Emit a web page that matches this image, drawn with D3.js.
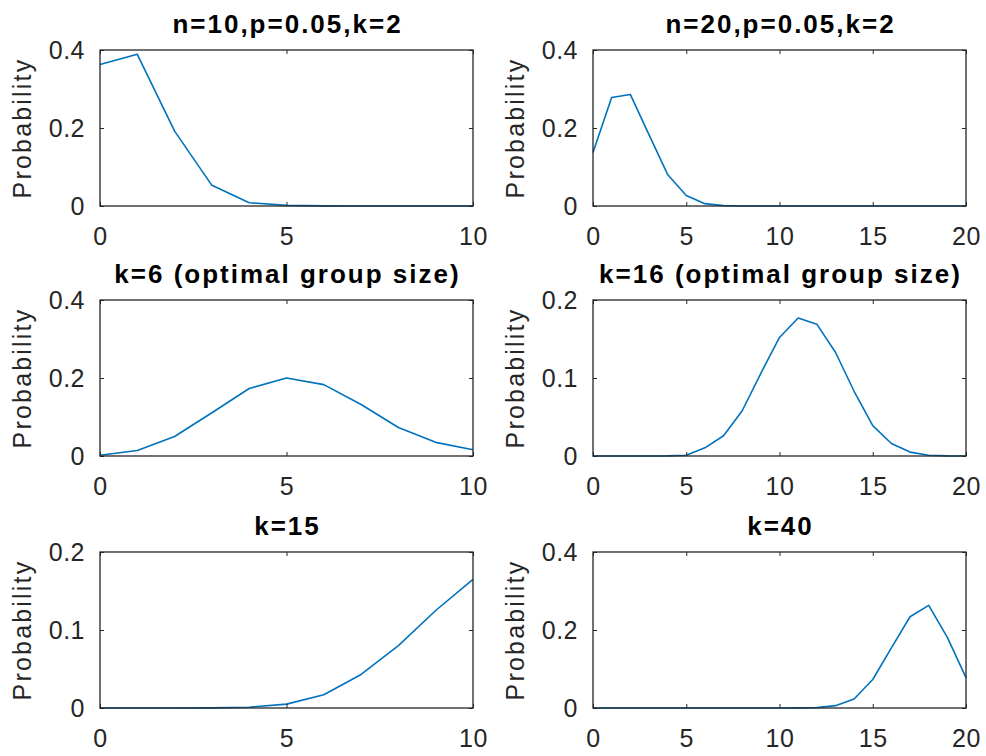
<!DOCTYPE html>
<html>
<head>
<meta charset="utf-8">
<script src="https://cdn.jsdelivr.net/npm/d3@7"></script>
<style>
  html, body { margin: 0; padding: 0; background: #ffffff; }
  svg { display: block; }
</style>
</head>
<body>
<svg id="chart" width="986" height="756"></svg>
<script>
// ---------------- data ----------------
const panelTitles = [
  "n=10,p=0.05,k=2",
  "n=20,p=0.05,k=2",
  "k=6 (optimal group size)",
  "k=16 (optimal group size)",
  "k=15",
  "k=40"
];
const yLabel = "Probability";

const xTicks10 = [0, 5, 10];
const xTicks20 = [0, 5, 10, 15, 20];
const xTickLabels10 = ["0", "5", "10"];
const xTickLabels20 = ["0", "5", "10", "15", "20"];
const yTicks04 = [0, 0.2, 0.4];
const yTicks02 = [0, 0.1, 0.2];
const yTickLabels04 = ["0", "0.2", "0.4"];
const yTickLabels02 = ["0", "0.1", "0.2"];

const probN10K2  = [0.363, 0.389, 0.192, 0.053, 0.0085, 0.0017, 0.0002, 0, 0, 0, 0];
const probN20K2  = [0.137, 0.278, 0.286, 0.183, 0.081, 0.027, 0.006, 0.001, 0.0001, 0, 0,
                    0, 0, 0, 0, 0, 0, 0, 0, 0, 0];
const probN10K6  = [0.002, 0.014, 0.05, 0.111, 0.173, 0.2, 0.183, 0.132, 0.073, 0.035, 0.016];
const probN20K16 = [0, 0, 0, 0, 0.0002, 0.001, 0.0105, 0.026, 0.058, 0.106, 0.152,
                    0.177, 0.169, 0.133, 0.083, 0.039, 0.016, 0.005, 0.001, 0.0002, 0];
const probN10K15 = [0, 0, 0, 0.0002, 0.001, 0.005, 0.017, 0.043, 0.08, 0.125, 0.165];
const probN20K40 = [0, 0, 0, 0, 0, 0, 0, 0, 0, 0, 0, 0.0002, 0.001, 0.006, 0.023,
                    0.073, 0.154, 0.234, 0.263, 0.181, 0.078];

const series = [probN10K2, probN20K2, probN10K6, probN20K16, probN10K15, probN20K40];
const xMaxes = [10, 20, 10, 20, 10, 20];
const yMaxes = [0.4, 0.4, 0.4, 0.2, 0.2, 0.4];

// ---------------- layout ----------------
const colX = [100, 593];
const rowY = [50, 300, 552];
const plotW = 373;
const plotH = 156;
const axisColor = "#262626";
const lineColor = "#0072BD";
const tickFont = "25px 'Liberation Sans', Arial, sans-serif";

const svg = d3.select("#chart");

series.forEach((vals, i) => {
  const col = i % 2, row = Math.floor(i / 2);
  const g = svg.append("g").attr("transform", `translate(${colX[col]},${rowY[row]})`);
  const xMax = xMaxes[i], yMax = yMaxes[i];
  const x = d3.scaleLinear().domain([0, xMax]).range([0, plotW]);
  const y = d3.scaleLinear().domain([0, yMax]).range([plotH, 0]);

  const xT = xMax === 10 ? xTicks10 : xTicks20;
  const xL = xMax === 10 ? xTickLabels10 : xTickLabels20;
  const yT = yMax === 0.4 ? yTicks04 : yTicks02;
  const yL = yMax === 0.4 ? yTickLabels04 : yTickLabels02;

  // data line
  const line = d3.line().x((d, j) => x(j)).y(d => y(d));
  g.append("path")
    .datum(vals)
    .attr("d", line)
    .attr("fill", "none")
    .attr("stroke", lineColor)
    .attr("stroke-width", 1.6)
    .attr("stroke-linejoin", "round");

  // axes
  const styleAxis = sel => {
    sel.select(".domain").remove();
    sel.selectAll(".tick line").attr("stroke", axisColor).attr("stroke-width", 1);
    sel.selectAll(".tick text")
      .attr("fill", axisColor)
      .style("font", tickFont)
      .style("letter-spacing", "0.5px");
  };

  g.append("g").attr("transform", `translate(0,${plotH})`)
    .call(d3.axisBottom(x).tickValues(xT).tickFormat((d, j) => xL[j])
      .tickSizeInner(-4).tickSizeOuter(0).tickPadding(21))
    .call(styleAxis);
  g.append("g")
    .call(d3.axisTop(x).tickValues(xT).tickFormat("")
      .tickSizeInner(-4).tickSizeOuter(0))
    .call(styleAxis);
  g.append("g")
    .call(d3.axisLeft(y).tickValues(yT).tickFormat((d, j) => yL[j])
      .tickSizeInner(-4).tickSizeOuter(0).tickPadding(15))
    .call(styleAxis);
  g.append("g").attr("transform", `translate(${plotW},0)`)
    .call(d3.axisRight(y).tickValues(yT).tickFormat("")
      .tickSizeInner(-4).tickSizeOuter(0))
    .call(styleAxis);

  // box
  g.append("rect")
    .attr("x", 0).attr("y", 0).attr("width", plotW).attr("height", plotH)
    .attr("fill", "none").attr("stroke", axisColor).attr("stroke-width", 1.3);

  // title
  g.append("text")
    .attr("x", plotW / 2 + 1).attr("y", -17)
    .attr("text-anchor", "middle")
    .attr("fill", "#000")
    .style("font", "bold 26px 'Liberation Sans', Arial, sans-serif")
    .style("letter-spacing", "2px")
    .text(panelTitles[i]);

  // y label
  g.append("text")
    .attr("transform", `translate(${-100 + 31},${plotH / 2}) rotate(-90)`)
    .attr("text-anchor", "middle")
    .attr("fill", axisColor)
    .style("font", "25px 'Liberation Sans', Arial, sans-serif")
    .style("letter-spacing", "2.2px")
    .text(yLabel);
});
</script>
</body>
</html>
